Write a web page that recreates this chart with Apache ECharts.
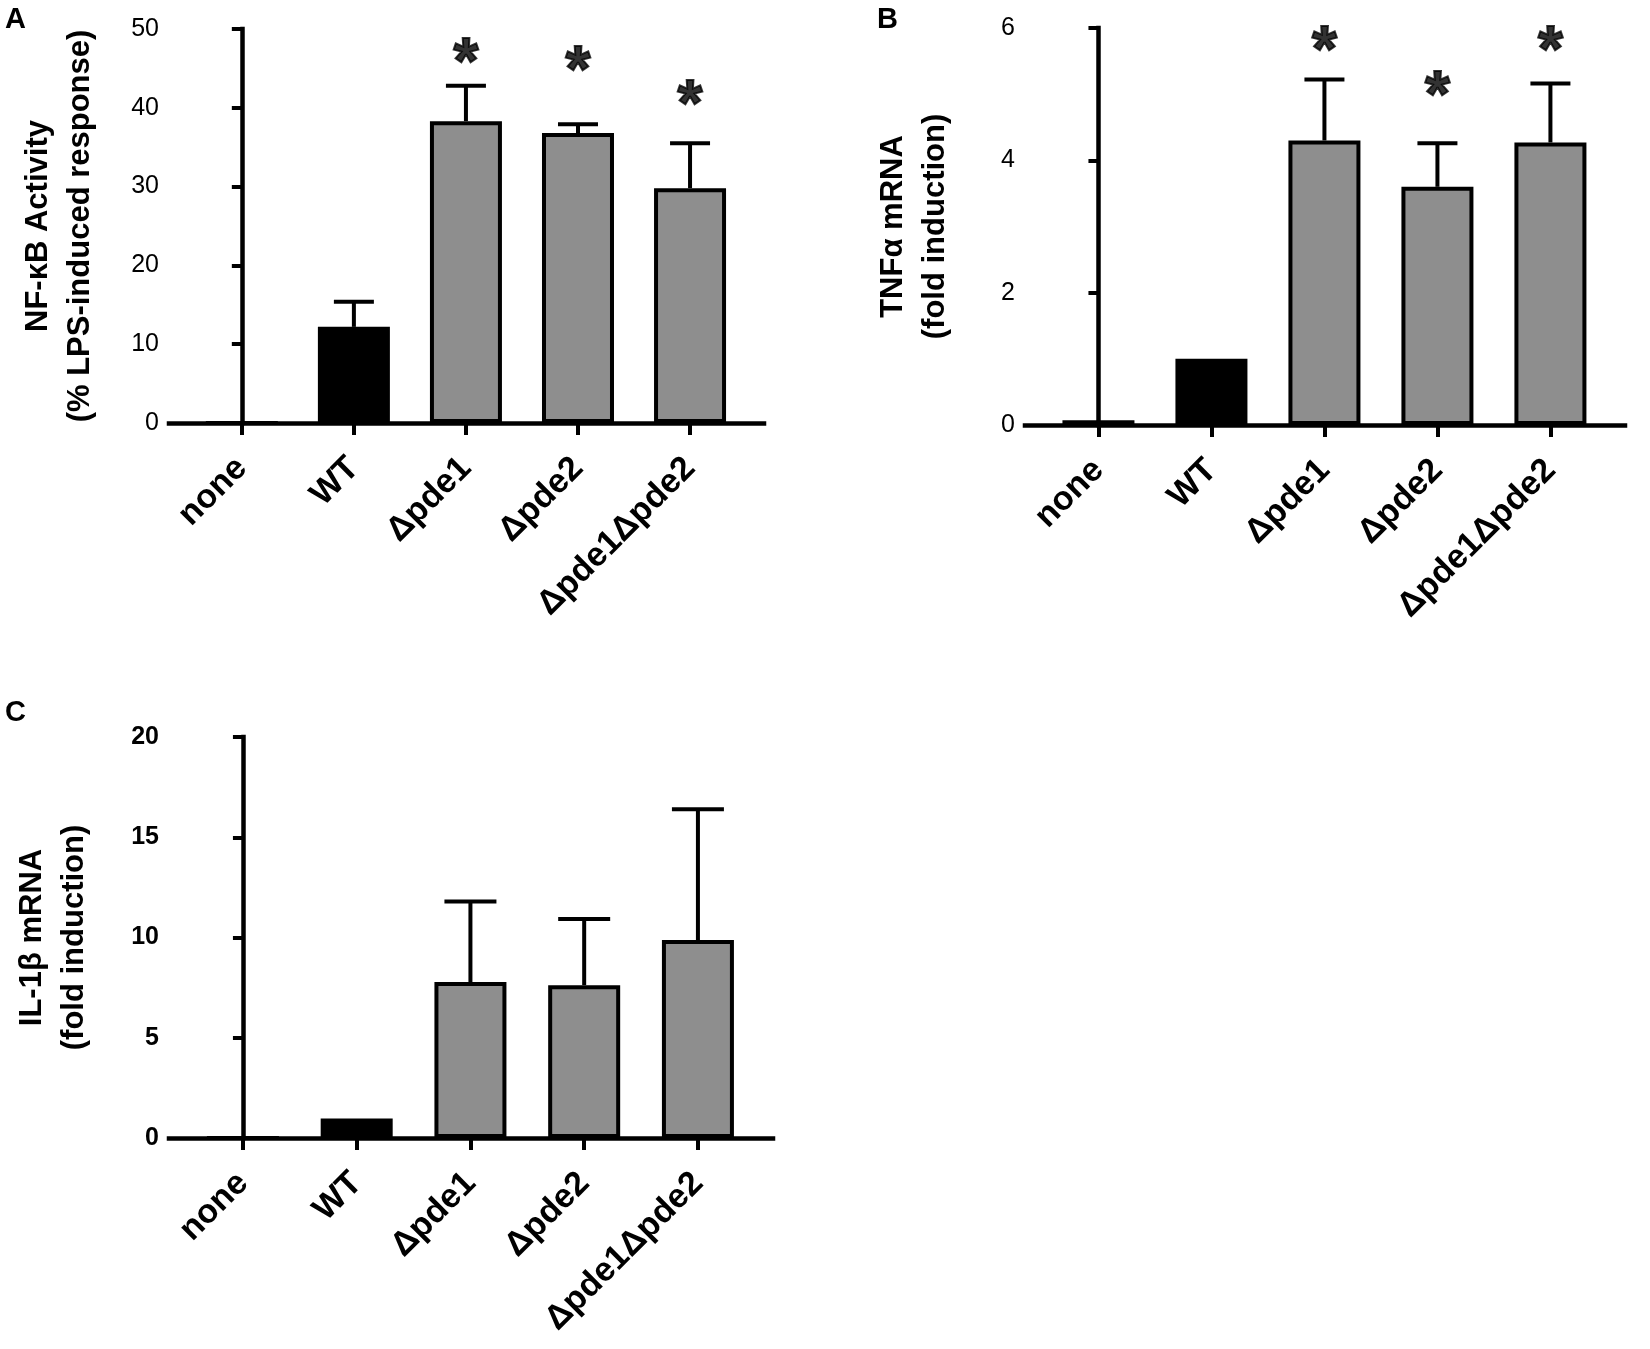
<!DOCTYPE html>
<html>
<head>
<meta charset="utf-8">
<script src="https://cdn.jsdelivr.net/npm/echarts@6/dist/echarts.min.js"></script>
<style>
html,body{margin:0;padding:0;background:#fff;}
#chart{width:1650px;height:1349px;}
</style>
</head>
<body>
<div id="chart"></div>
<script>
// ---------- data ----------
const categories = ['none', 'WT', 'Δpde1', 'Δpde2', 'Δpde1Δpde2'];
const categoryTicks = [0, 1, 2, 3, 4];

// Panel A: NF-κB activity (% LPS-induced response)
const nfkbMean  = [0, 12.2, 38.3, 36.8, 29.8];
const nfkbUpper = [null, 15.4, 42.8, 37.9, 35.5];
const nfkbStars = [null, null, 47.3, 46.3, 42.0];
const nfkbTicks = { min: 0, max: 50, interval: 10 };

// Panel B: TNFα mRNA (fold induction)
const tnfMean  = [0.07, 1.0, 4.30, 3.60, 4.27];
const tnfUpper = [null, null, 5.22, 4.26, 5.16];
const tnfStars = [null, null, 5.85, 5.16, 5.85];
const tnfTicks = { min: 0, max: 6, interval: 2 };

// Panel C: IL-1β mRNA (fold induction)
const il1bMean  = [0, 0.97, 7.78, 7.62, 9.88];
const il1bUpper = [null, null, 11.8, 10.92, 16.4];
const il1bStars = [null, null, null, null, null];
const il1bTicks = { min: 0, max: 20, interval: 5 };

const yTitles = ['NF-κB Activity\n(% LPS-induced response)', 'TNFα mRNA\n(fold induction)', 'IL-1β mRNA\n(fold induction)'];
const panelLetters = ['A', 'B', 'C'];

// ---------- styles / layout ----------
const FONT = 'Liberation Sans, Arial, sans-serif';
const barFill = ['#8e8e8e', '#000000', '#8e8e8e', '#8e8e8e', '#8e8e8e'];

const panels = [
  { mean: nfkbMean, upper: nfkbUpper, stars: nfkbStars, ticks: nfkbTicks,
    grid: { left: 169, top: 29, width: 595, height: 394 },
    titleGap: 110, letterPos: [5, 5], tickBold: false, capHalf: 20 },
  { mean: tnfMean, upper: tnfUpper, stars: tnfStars, ticks: tnfTicks,
    grid: { left: 1025, top: 28, width: 600, height: 397 },
    titleGap: 111, letterPos: [877, 5], tickBold: false, capHalf: 20 },
  { mean: il1bMean, upper: il1bUpper, stars: il1bStars, ticks: il1bTicks,
    grid: { left: 169, top: 737, width: 604, height: 401 },
    titleGap: 116, letterPos: [5, 698], tickBold: true, capHalf: 26 }
];

const grid = [], xAxis = [], yAxis = [], series = [], graphic = [];

panels.forEach((p, k) => {
  grid.push(Object.assign({ containLabel: false, outerBoundsMode: 'none' }, p.grid));
  xAxis.push({
    type: 'value', gridIndex: k, min: -0.65, max: 4.66,
    splitLine: { show: false },
    axisLine: { show: true, onZero: false, lineStyle: { color: '#000', width: 4.5, cap: 'square' } },
    axisTick: { show: true, customValues: categoryTicks, length: 12, lineStyle: { color: '#000', width: 4 } },
    axisLabel: {
      customValues: categoryTicks,
      formatter: v => categories[Math.round(v)],
      rotate: 45, margin: 40, color: '#000',
      fontFamily: FONT, fontWeight: 'bold', fontSize: 34
    }
  });
  yAxis.push({
    type: 'value', gridIndex: k,
    min: p.ticks.min, max: p.ticks.max, interval: p.ticks.interval,
    splitLine: { show: false },
    axisLine: { show: true, lineStyle: { color: '#000', width: 4.5, cap: 'square' } },
    axisTick: { show: true, length: 10, lineStyle: { color: '#000', width: 4 } },
    axisLabel: { color: '#000', fontFamily: FONT, fontSize: 25, margin: 10,
                 fontWeight: p.tickBold ? 'bold' : 'normal' }
  });

  // y-axis title (rotated, two lines)
  graphic.push({
    type: 'text',
    x: p.grid.left - p.titleGap,
    y: p.grid.top + p.grid.height / 2,
    rotation: Math.PI / 2,
    style: {
      text: yTitles[k], fill: '#000',
      fontFamily: FONT, fontWeight: 'bold', fontSize: 31, lineHeight: 42,
      align: 'center', verticalAlign: 'middle',
      textAlign: 'center', textVerticalAlign: 'middle'
    }
  });
  // panel letter
  graphic.push({
    type: 'text', x: p.letterPos[0], y: p.letterPos[1],
    style: { text: panelLetters[k], fill: '#000', fontFamily: FONT, fontWeight: 'bold', fontSize: 29 }
  });

  // bars
  series.push({
    type: 'bar', xAxisIndex: k, yAxisIndex: k, barWidth: 72,
    data: p.mean.map((v, i) => ({
      value: [i, v],
      itemStyle: { color: barFill[i], borderColor: '#000', borderWidth: 4 }
    })),
    z: 3
  });

  // error bars (upper only)
  const errData = [];
  p.upper.forEach((u, i) => { if (u != null) errData.push([i, p.mean[i], u]); });
  const capHalf = p.capHalf;
  series.push({
    type: 'custom', xAxisIndex: k, yAxisIndex: k,
    data: errData,
    renderItem: function (params, api) {
      const base = api.coord([api.value(0), api.value(1)]);
      const top = api.coord([api.value(0), api.value(2)]);
      const st = { stroke: '#000', lineWidth: 4 };
      return {
        type: 'group',
        children: [
          { type: 'line', shape: { x1: base[0], y1: base[1], x2: top[0], y2: top[1] }, style: st },
          { type: 'line', shape: { x1: top[0] - capHalf, y1: top[1], x2: top[0] + capHalf, y2: top[1] }, style: st }
        ]
      };
    },
    z: 2
  });

  // significance asterisks
  const starData = [];
  p.stars.forEach((s, i) => { if (s != null) starData.push([i, s]); });
  if (starData.length) {
    series.push({
      type: 'scatter', xAxisIndex: k, yAxisIndex: k,
      symbolSize: 1, itemStyle: { color: 'rgba(0,0,0,0)' },
      data: starData,
      label: {
        show: true, formatter: '*', position: 'inside', offset: [0, 15],
        color: '#000', textBorderColor: '#000', textBorderWidth: 2,
        fontFamily: FONT, fontWeight: 'bold', fontSize: 64
      },
      emphasis: { disabled: true },
      z: 4
    });
  }
});

const chart = echarts.init(document.getElementById('chart'), null, { renderer: 'canvas' });
chart.setOption({
  backgroundColor: '#fff',
  animation: false,
  grid, xAxis, yAxis, series, graphic
});
</script>
</body>
</html>
